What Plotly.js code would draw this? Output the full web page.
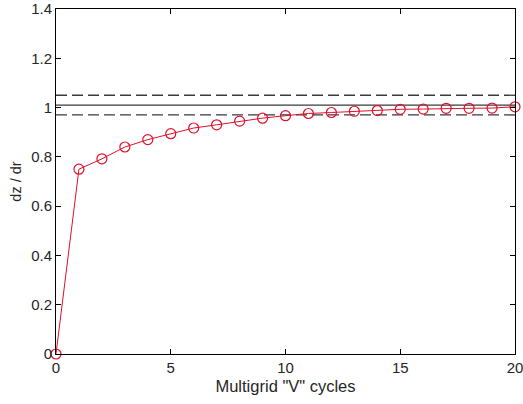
<!DOCTYPE html>
<html>
<head>
<meta charset="utf-8">
<script src="https://cdn.plot.ly/plotly-3.0.1.min.js"></script>
<style>html,body{margin:0;padding:0;background:#fff;}#chart{width:523px;height:404px;}</style>
</head>
<body>
<div id="chart"></div>
<script>
const cycles = [0,1,2,3,4,5,6,7,8,9,10,11,12,13,14,15,16,17,18,19,20];
const ratio = [0,0.75,0.792,0.840,0.870,0.894,0.917,0.930,0.945,0.957,0.967,0.976,0.980,0.985,0.988,0.993,0.994,0.997,0.997,0.998,1.003];
const refX = [0,20];
const refLevel = 1.01;
const upperLevel = 1.05;
const lowerLevel = 0.97;
const xTicks = [0,5,10,15,20];
const yTicks = [0,0.2,0.4,0.6,0.8,1,1.2,1.4];
const yTickText = ['0','0.2','0.4','0.6','0.8','1','1.2','1.4'];

const refColor = '#3a3a3a';
const textColor = '#262626';
const fontFam = 'Liberation Sans, Arial, sans-serif';
const traces = [
  {x: refX, y: [refLevel, refLevel], mode: 'lines', line: {color: refColor, width: 1.2}, hoverinfo: 'skip'},
  {x: refX, y: [upperLevel, upperLevel], mode: 'lines', line: {color: refColor, width: 1.3, dash: '11px,5px'}, hoverinfo: 'skip'},
  {x: refX, y: [lowerLevel, lowerLevel], mode: 'lines', line: {color: refColor, width: 1.3, dash: '11px,5px'}, hoverinfo: 'skip'},
  {x: cycles, y: ratio, mode: 'lines+markers', line: {color: '#e0102a', width: 1},
   marker: {symbol: 'circle-open', size: 10, color: '#e0102a', line: {width: 1.2, color: '#e0102a'}}, cliponaxis: false}
];

const axisCommon = {
  showgrid: false, zeroline: false, showline: true, mirror: 'ticks',
  linecolor: '#000', linewidth: 1, ticks: 'inside', ticklen: 5, tickcolor: '#000',
  ticklabeloverflow: 'allow',
  tickfont: {family: fontFam, size: 15, color: textColor}
};

const layout = {
  width: 523, height: 404,
  margin: {l: 56, r: 8, t: 9, b: 50},
  paper_bgcolor: '#fff', plot_bgcolor: '#fff',
  showlegend: false,
  xaxis: Object.assign({}, axisCommon, {
    range: [0, 20], tickvals: xTicks, ticktext: xTicks.map(String),
    title: {text: 'Multigrid "V" cycles', standoff: 5, font: {family: fontFam, size: 16.5, color: textColor}}
  }),
  yaxis: Object.assign({}, axisCommon, {
    range: [0, 1.4], tickvals: yTicks, ticktext: yTickText,
    title: {text: 'dz / dr', standoff: 6, font: {family: fontFam, size: 14.5, color: textColor}}
  })
};

Plotly.newPlot('chart', traces, layout, {displayModeBar: false, staticPlot: true});
</script>
</body>
</html>
